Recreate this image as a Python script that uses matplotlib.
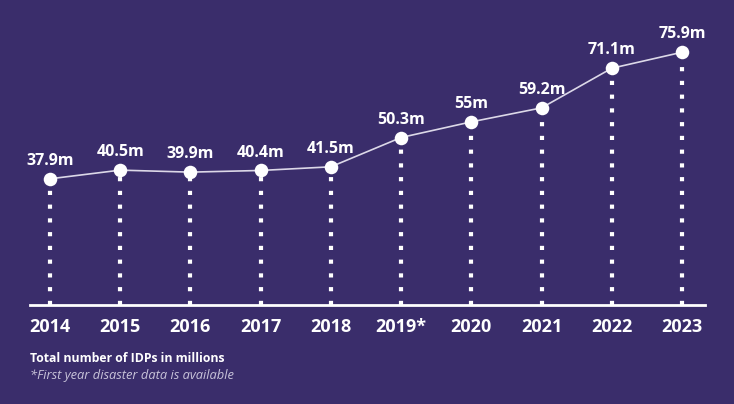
import numpy as np
import matplotlib.pyplot as plt

years = ["2014", "2015", "2016", "2017", "2018", "2019*", "2020", "2021", "2022", "2023"]
idps = [37.9, 40.5, 39.9, 40.4, 41.5, 50.3, 55.0, 59.2, 71.1, 75.9]
labels = ["37.9m", "40.5m", "39.9m", "40.4m", "41.5m", "50.3m", "55m", "59.2m", "71.1m", "75.9m"]

bg = "#3a2d6b"
plt.rcParams['font.family'] = ['Open Sans', 'DejaVu Sans']

fig = plt.figure(figsize=(7.34, 4.04), dpi=100, facecolor=bg)
ax = fig.add_axes([30/734, 1 - 305/404, 675/734, (305 - 38.6)/404])
ax.set_facecolor(bg)

x = np.arange(len(years))

# dotted stems from baseline to each point
for xi, yi in zip(x, idps):
    ax.plot([xi, xi], [0, yi], color="white", lw=3, linestyle=(0, (1, 2.3)),
            dash_capstyle="butt", zorder=1)

ax.plot(x, idps, color="#dcd8e8", lw=1.2, zorder=2)
ax.scatter(x, idps, s=95, color="white", zorder=3, linewidths=0)

for xi, yi, lab in zip(x, idps, labels):
    ax.annotate(lab, (xi, yi), xytext=(0, 10), textcoords="offset points",
                ha="center", va="baseline", color="white", fontsize=11.5, fontweight="bold")

ax.set_xlim(-20/70.2, 9 + 23/70.2)
ax.set_ylim(0, 80)
ax.axhline(0, color="white", lw=2, zorder=4, clip_on=False)

ax.set_xticks(x)
ax.set_xticklabels(years, color="white", fontsize=13, fontweight="bold")
ax.tick_params(axis="x", length=0, pad=9)
ax.set_yticks([])
for s in ax.spines.values():
    s.set_visible(False)

fig.text(30/734, 1 - 358/404, "Total number of IDPs in millions", color="white",
         fontsize=8.8, fontweight="bold", va="center")
fig.text(30/734, 1 - 376/404, "*First year disaster data is available", color="#c9c4da",
         fontsize=9.3, style="italic", va="center")

fig.savefig("out.png", dpi=100, facecolor=bg)
